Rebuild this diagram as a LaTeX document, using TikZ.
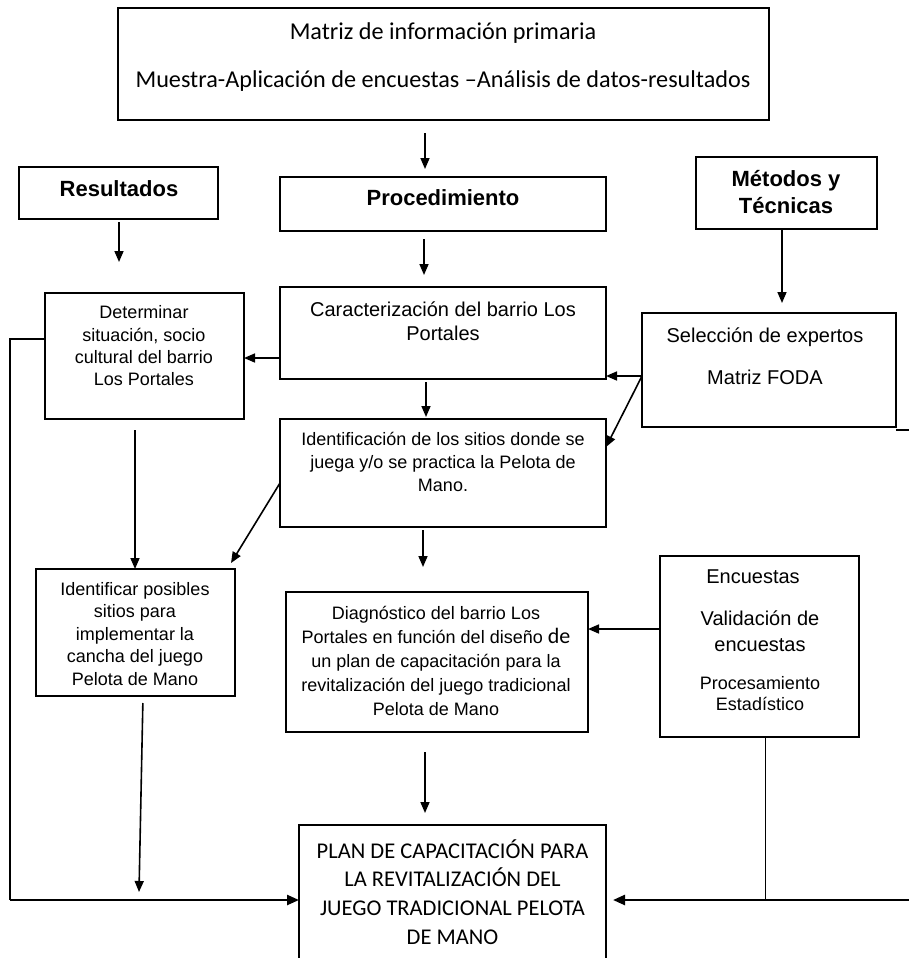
\documentclass[tikz,border=0pt]{standalone}
\usepackage{fontspec}
\setmainfont{Liberation Sans}
\newfontfamily\calibrifont{Carlito}
\usetikzlibrary{arrows.meta,calc}
\tikzset{
  box/.style={draw, line width=1.3pt, inner sep=0pt, outer sep=0pt},
  txt/.style={inner sep=0pt, align=center},
  arr/.style={-{Triangle[length=11pt,width=9pt]}, line width=1.6pt},
  thickarr/.style={-{Triangle[length=12pt,width=10pt]}, line width=2.4pt},
  plain/.style={line width=1.3pt},
}
\begin{document}
\begin{tikzpicture}[x=1pt,y=-1pt]
\fill[white] (0,0) rectangle (909,958);
\useasboundingbox (0,0) rectangle (909,958);
% boxes
\node[box, minimum width=651pt, minimum height=112pt] (top) at (443.5,64) {};
\node[box, minimum width=199pt, minimum height=52pt] (res) at (118.5,193) {};
\node[box, minimum width=326pt, minimum height=54pt] (proc) at (443,204) {};
\node[box, minimum width=181pt, minimum height=72pt] (met) at (786.5,193) {};
\node[box, minimum width=199pt, minimum height=126pt] (det) at (144.5,356) {};
\node[box, minimum width=326pt, minimum height=92pt] (car) at (443,333) {};
\node[box, minimum width=254pt, minimum height=114pt] (sel) at (769,370) {};
\node[box, minimum width=326pt, minimum height=108pt] (ident) at (443,473) {};
\node[box, minimum width=199pt, minimum height=127pt] (iden) at (135.5,632.5) {};
\node[box, minimum width=302pt, minimum height=140pt] (diag) at (437,662) {};
\node[box, minimum width=199pt, minimum height=181pt] (enc) at (759.5,646.5) {};
\node[box, minimum width=307pt, minimum height=140pt] (plan) at (452.5,895) {};
% texts
\node[txt, font=\calibrifont\fontsize{24.2}{48}\selectfont] (ttop) at (443,57)
  {Matriz de información primaria\\Muestra-Aplicación de encuestas –Análisis de datos-resultados};
\node[txt, font=\bfseries\fontsize{22}{26}\selectfont] (tres) at (119,189) {Resultados};
\node[txt, font=\bfseries\fontsize{22}{26}\selectfont] (tproc) at (443,198) {Procedimiento};
\node[txt, font=\bfseries\fontsize{22}{27}\selectfont] (tmet) at (786,192) {Métodos y\\Técnicas};
\node[txt, font=\fontsize{18}{22.3}\selectfont] (tdet) at (144,346)
  {Determinar\\situación, socio\\cultural del barrio\\Los Portales};
\node[txt, font=\fontsize{20}{24}\selectfont] (tcar) at (443,321)
  {Caracterización del barrio Los\\Portales};
\node[txt, font=\fontsize{20}{42}\selectfont] (tsel) at (765,356)
  {Selección de expertos\\Matriz FODA};
\node[txt, font=\fontsize{18}{22.8}\selectfont] (tident) at (443,462)
  {Identificación de los sitios donde se\\juega y/o se practica la Pelota de\\Mano.};
\node[txt, font=\fontsize{18}{22.5}\selectfont] (tiden) at (135,634)
  {Identificar posibles\\sitios para\\implementar la\\cancha del juego\\Pelota de Mano};
\node[txt, font=\fontsize{18}{24}\selectfont] (tdiag) at (436,661)
  {Diagnóstico del barrio Los\\Portales en función del diseño {\calibrifont\fontsize{22}{24}\selectfont de}\\un plan de capacitación para la\\revitalización del juego tradicional\\Pelota de Mano};
\node[txt, font=\fontsize{20}{24}\selectfont] (tenc1) at (753,577) {Encuestas};
\node[txt, font=\fontsize{20}{26}\selectfont] (tenc2) at (760,631) {Validación de\\encuestas};
\node[txt, font=\fontsize{18}{21}\selectfont] (tenc3) at (760,694) {Procesamiento\\Estadístico};
\node[txt, font=\calibrifont\fontsize{22.5}{28.7}\selectfont] (tplan) at (452.5,892)
  {PLAN DE CAPACITACIÓN PARA\\LA REVITALIZACIÓN DEL\\JUEGO TRADICIONAL PELOTA\\DE MANO};
% free ends
\coordinate (lc) at (10,900);
\coordinate (rc) at (925,900);
\coordinate (ib) at (139,892);
% connectors
\draw[arr, shorten <=13pt, shorten >=8pt] (top.south -| 425,0) -- (proc.north -| 425,0);
\draw[arr, shorten <=3pt, shorten >=31pt] (res.south -| 119,0) -- (det.north -| 119,0);
\draw[arr, shorten <=8pt, shorten >=12pt] (proc.south -| 424,0) -- (car.north -| 424,0);
\draw[arr, shorten >=10pt] (met.south -| 782,0) -- (sel.north -| 782,0);
\draw[arr] (car.west |- 0,358) -- (det.east |- 0,358);
\draw[arr] (sel.west |- 0,376) -- (car.east |- 0,376);
\draw[arr] (sel.west |- 0,376) -- (ident.east |- 0,447);
\draw[arr, shorten <=3pt, shorten >=2pt] (car.south -| 426,0) -- (ident.north -| 426,0);
\draw[arr] (ident.west |- 0,483) -- ($(iden.north east)+(-4,-6)$);
\draw[arr, shorten <=11pt] (det.south -| 135,0) -- (iden.north -| 135,0);
\draw[arr, shorten <=3pt, shorten >=25pt] (ident.south -| 423,0) -- (diag.north -| 423,0);
\draw[arr] (enc.west |- 0,629) -- (diag.east |- 0,629);
\draw[arr, shorten <=20pt, shorten >=12pt] (diag.south -| 425,0) -- (plan.north -| 425,0);
\draw[arr, shorten <=7pt] (iden.south -| 143,0) -- (ib);
\draw[plain] (det.west |- 0,339) -- (lc |- 0,339) -- (lc);
\draw[thickarr] (lc) -- (plan.west |- lc);
\draw[plain] (sel.south east |- 0,430) -- (rc |- 0,430) -- (rc);
\draw[thickarr, shorten >=7pt] (rc) -- (plan.east |- rc);
\draw[line width=1pt] (enc.south -| 765,0) -- (765,900);
\end{tikzpicture}
\end{document}
